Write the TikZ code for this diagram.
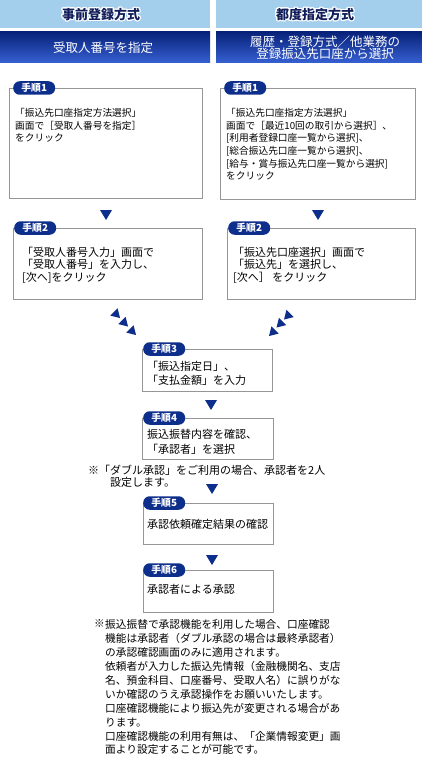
\documentclass[tikz,border=0pt]{standalone}
\usepackage{fontspec}
\setmainfont{Noto Sans CJK JP}
\usepackage[copies]{contour}
\contourlength{1.1pt}
\usetikzlibrary{calc}
\definecolor{lblue}{RGB}{163,206,236}
\definecolor{navy}{RGB}{14,46,140}
\definecolor{dtop}{RGB}{8,34,122}
\definecolor{dbot}{RGB}{54,96,210}
\definecolor{boxgray}{RGB}{150,150,150}
\definecolor{hdtext}{RGB}{18,30,90}
\begin{document}
\begin{tikzpicture}[x=1pt,y=-1pt,
  stepbox/.style={draw=boxgray, line width=0.8pt, fill=white, anchor=north west, inner sep=0pt},
  badge/.style={fill=navy, rounded corners=6.5pt, minimum width=42pt, minimum height=13.5pt, inner sep=0pt, text=white, font=\fontsize{9.8}{10}\selectfont\bfseries, anchor=west},
  txt/.style={anchor=north west, align=left, inner sep=0pt, font=\fontsize{11}{14.5}\selectfont},
  smalltxt/.style={txt, font=\fontsize{9.7}{12.7}\selectfont},
  midtxt/.style={txt, font=\fontsize{11}{12.5}\selectfont},
  headlight/.style={fill=lblue, draw=none},
  headdark/.style={top color=dtop, bottom color=dbot, draw=none},
  headtxt/.style={inner sep=0pt, text=hdtext, font=\fontsize{13}{14}\selectfont\bfseries},
  subtxt/.style={inner sep=0pt, text=white, align=center, font=\fontsize{12.5}{11.8}\selectfont},
  tri/.pic={\fill[navy] (-6,-5)--(6,-5)--(0,5)--cycle;}]
\useasboundingbox (0,0) rectangle (422,762);
\fill[white] (0,0) rectangle (422,762);

% headers
\fill[headlight] (0,0) rectangle (210,28);
\fill[headlight] (216,0) rectangle (422,28);
\shade[headdark] (0,32) rectangle (210,63);
\shade[headdark] (216,32) rectangle (422,63);
\node[headtxt] (hL) at (101,15) {\contour{white}{事前登録方式}};
\node[headtxt] (hR) at (315,15) {\contour{white}{都度指定方式}};
\node[subtxt] (sL) at (103,47.5) {受取人番号を指定};
\node[subtxt] (sR) at (325,48) {履歴・登録方式／他業務の\\登録振込先口座から選択};

% step 1
\node[stepbox, minimum width=193pt, minimum height=110pt] (b1L) at (9,88) {};
\node[badge] (t1L) at ($(b1L.north west)+(4,0)$) {手順1};
\node[smalltxt] (x1L) at (15,108) {「振込先口座指定方法選択」\\画面で［受取人番号を指定］\\をクリック};
\node[stepbox, minimum width=195pt, minimum height=111pt] (b1R) at (220,88) {};
\node[badge] (t1R) at ($(b1R.north west)+(4,0)$) {手順1};
\node[smalltxt] (x1R) at (226,108) {「振込先口座指定方法選択」\\画面で［最近10回の取引から選択］、\\{[}利用者登録口座一覧から選択]、\\{[}総合振込先口座一覧から選択]、\\{[}給与・賞与振込先口座一覧から選択]\\をクリック};

\pic at (106,215) {tri};
\pic at (318,215) {tri};

% step 2
\node[stepbox, minimum width=189pt, minimum height=71pt] (b2L) at (13,228) {};
\node[badge] (t2L) at ($(b2L.north west)+(1,0)$) {手順2};
\node[midtxt] (x2L) at (22,246.5) {「受取人番号入力」画面で\\「受取人番号」を入力し、\\{[}次へ]をクリック};
\node[stepbox, minimum width=188pt, minimum height=71pt] (b2R) at (227,228) {};
\node[badge] (t2R) at ($(b2R.north west)+(1,0)$) {手順2};
\node[midtxt] (x2R) at (233,246.5) {「振込先口座選択」画面で\\「振込先」を選択し、\\{[}次へ］ をクリック};

\pic[scale=0.85, rotate=45] at (117,315) {tri};
\pic[scale=0.85, rotate=45] at (125,323.5) {tri};
\pic[scale=0.85, rotate=45] at (133,332) {tri};
\pic[scale=0.85, rotate=-45] at (287,316.5) {tri};
\pic[scale=0.85, rotate=-45] at (279.5,324.5) {tri};
\pic[scale=0.85, rotate=-45] at (272,333) {tri};

% step 3
\node[stepbox, minimum width=130pt, minimum height=42pt] (b3) at (142,349) {};
\node[badge] (t3) at ($(b3.north west)+(1,0)$) {手順3};
\node[txt] (x3) at (147,360.5) {「振込指定日」、\\「支払金額」を入力};
\pic at (211,405) {tri};

% step 4
\node[stepbox, minimum width=131pt, minimum height=41pt] (b4) at (142,418) {};
\node[badge] (t4) at ($(b4.north west)+(1,0)$) {手順4};
\node[txt, font=\fontsize{11}{15}\selectfont] (x4) at (147,429.5) {振込振替内容を確認、\\「承認者」を選択};
\node[txt] (n1) at (88,464.5) {※「ダブル承認」をご利用の場合、承認者を2人};
\node[txt] (n2) at (110,477.5) {設定します。};
\pic at (212,489) {tri};

% step 5
\node[stepbox, minimum width=130pt, minimum height=41pt] (b5) at (143,503) {};
\node[badge] (t5) at ($(b5.north west)+(0,0)$) {手順5};
\node[txt] (x5) at (147,519.5) {承認依頼確定結果の確認};
\pic at (212,560) {tri};

% step 6
\node[stepbox, minimum width=130pt, minimum height=42pt] (b6) at (143,570) {};
\node[badge] (t6) at ($(b6.north west)+(0,0)$) {手順6};
\node[txt] (x6) at (147,584.5) {承認者による承認};

% bottom note
\node[txt, font=\fontsize{10.7}{13.9}\selectfont] (m0) at (94,619.6) {※};
\node[txt, font=\fontsize{10.7}{13.9}\selectfont] (m1) at (105,619.6) {振込振替で承認機能を利用した場合、口座確認\\機能は承認者（ダブル承認の場合は最終承認者）\\の承認確認画面のみに適用されます。\\依頼者が入力した振込先情報（金融機関名、支店\\名、預金科目、口座番号、受取人名）に誤りがな\\いか確認のうえ承認操作をお願いいたします。\\口座確認機能により振込先が変更される場合があ\\ります。\\口座確認機能の利用有無は、「企業情報変更」画\\面より設定することが可能です。};
\end{tikzpicture}
\end{document}
